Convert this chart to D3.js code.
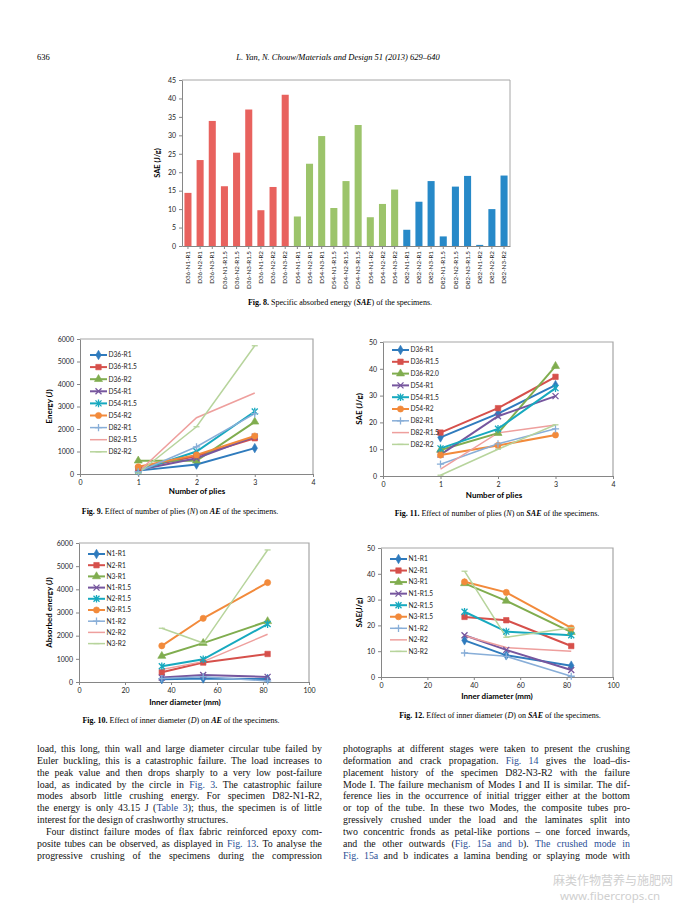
<!DOCTYPE html>
<html>
<head>
<meta charset="utf-8">
<script src="https://cdn.jsdelivr.net/npm/d3@7"></script>
<style>
  body { margin: 0; background: #fff; }
  svg { display: block; }
  .tick line { stroke: #868686; }
  .domain { stroke: #868686; }
</style>
</head>
<body>
<div id="page"></div>
<script>
// ---- data ----
const barCategories = [
  "D36-N1-R1", "D36-N2-R1", "D36-N3-R1", "D36-N1-R1.5", "D36-N2-R1.5", "D36-N3-R1.5",
  "D36-N1-R2", "D36-N2-R2", "D36-N3-R2",
  "D54-N1-R1", "D54-N2-R1", "D54-N3-R1", "D54-N1-R1.5", "D54-N2-R1.5", "D54-N3-R1.5",
  "D54-N1-R2", "D54-N2-R2", "D54-N3-R2",
  "D82-N1-R1", "D82-N2-R1", "D82-N3-R1", "D82-N1-R1.5", "D82-N2-R1.5", "D82-N3-R1.5",
  "D82-N1-R2", "D82-N2-R2", "D82-N3-R2"
];
const barValues = [
  14.4, 23.3, 33.9, 16.2, 25.3, 37.0, 9.7, 16.0, 41.0,
  8.0, 22.3, 29.8, 10.3, 17.6, 32.8, 7.8, 11.4, 15.3,
  4.4, 12.0, 17.6, 2.6, 16.1, 19.0, 0.3, 10.0, 19.1
];
const barTicks = [0, 5, 10, 15, 20, 25, 30, 35, 40, 45];

const plies = [1, 2, 3];
const diameters = [36, 54, 82];

const pliesSeriesAE = ["D36-R1", "D36-R1.5", "D36-R2", "D54-R1", "D54-R1.5", "D54-R2", "D82-R1", "D82-R1.5", "D82-R2"];
const energyByPlies = [
  [150, 420, 1150],
  [250, 800, 1590],
  [590, 590, 2320],
  [180, 700, 1660],
  [150, 1000, 2780],
  [320, 850, 1690],
  [100, 1210, 2680],
  [90, 2500, 3600],
  [43, 2100, 5700]
];

const pliesSeriesSAE = ["D36-R1", "D36-R1.5", "D36-R2.0", "D54-R1", "D54-R1.5", "D54-R2", "D82-R1", "D82-R1.5", "D82-R2"];
const saeByPlies = [
  [14.4, 23.3, 33.9],
  [16.2, 25.3, 37.0],
  [9.7, 16.0, 41.0],
  [8.0, 22.3, 29.8],
  [10.3, 17.6, 32.8],
  [7.8, 11.4, 15.3],
  [4.4, 12.0, 17.6],
  [2.6, 16.1, 19.0],
  [0.3, 10.0, 19.1]
];

const diamSeries = ["N1-R1", "N2-R1", "N3-R1", "N1-R1.5", "N2-R1.5", "N3-R1.5", "N1-R2", "N2-R2", "N3-R2"];
const energyByDiameter = [
  [120, 150, 130],
  [420, 840, 1210],
  [1120, 1680, 2620],
  [190, 300, 220],
  [680, 980, 2500],
  [1560, 2750, 4290],
  [150, 230, 43],
  [540, 880, 2060],
  [2320, 1680, 5700]
];
const saeByDiameter = [
  [14.2, 8.4, 4.4],
  [23.3, 22.0, 12.0],
  [36.3, 29.5, 17.4],
  [16.2, 10.5, 2.7],
  [25.3, 17.6, 16.2],
  [36.9, 32.8, 19.0],
  [9.3, 8.0, 0.3],
  [16.0, 11.4, 10.0],
  [41.0, 15.4, 19.1]
];

const energyTicks = [0, 1000, 2000, 3000, 4000, 5000, 6000];
const saeTicks = [0, 10, 20, 30, 40, 50];
const pliesTicks = [0, 1, 2, 3, 4];
const diamTicks = [0, 20, 40, 60, 80, 100];

const seriesColors = ["#2f7bbd", "#d6504b", "#80ad4f", "#76569e", "#17a9bf", "#f28a3b", "#88aed8", "#ee9f9d", "#b7d49c"];
const markerKinds = ["diamond", "square", "triangle", "x", "star", "circle", "plus", "none", "dash"];
const groupColors = ["#e8625e", "#9cc46b", "#2789c8"];

const leftLines = [
  "load, this long, thin wall and large diameter circular tube failed by",
  "Euler buckling, this is a catastrophic failure. The load increases to",
  "the peak value and then drops sharply to a very low post-failure",
  "load, as indicated by the circle in {Fig. 3}. The catastrophic failure",
  "modes absorb little crushing energy. For specimen D82-N1-R2,",
  "the energy is only 43.15 J ({Table 3}); thus, the specimen is of little",
  "interest for the design of crashworthy structures.",
  "Four distinct failure modes of flax fabric reinforced epoxy com-",
  "posite tubes can be observed, as displayed in {Fig. 13}. To analyse the",
  "progressive crushing of the specimens during the compression"
];
const rightLines = [
  "photographs at different stages were taken to present the crushing",
  "deformation and crack propagation. {Fig. 14} gives the load–dis-",
  "placement history of the specimen D82-N3-R2 with the failure",
  "Mode I. The failure mechanism of Modes I and II is similar. The dif-",
  "ference lies in the occurrence of initial trigger either at the bottom",
  "or top of the tube. In these two Modes, the composite tubes pro-",
  "gressively crushed under the load and the laminates split into",
  "two concentric fronds as petal-like portions – one forced inwards,",
  "and the other outwards ({Fig. 15a and b}). {The crushed mode in}",
  "{Fig. 15a} and b indicates a lamina bending or splaying mode with"
];

const W = 678, H = 905;
const chartFont = "Lato, 'Open Sans', sans-serif";
const serif = "'Liberation Serif', 'DejaVu Serif', serif";
const linkColor = "#2b4f96";

const svg = d3.select("#page").append("svg")
  .attr("width", W).attr("height", H)
  .style("background", "#fff");

// header
svg.append("text").attr("x", 37).attr("y", 60)
  .attr("font-family", serif).attr("font-size", 8.5).text("636");
svg.append("text").attr("x", 338).attr("y", 60).attr("text-anchor", "middle")
  .attr("font-family", serif).attr("font-size", 8.5).attr("font-style", "italic")
  .text("L. Yan, N. Chouw/Materials and Design 51 (2013) 629–640");

// caption helper: parts = [text, style]
function caption(cx, cy, parts) {
  const t = svg.append("text").attr("x", cx).attr("y", cy).attr("text-anchor", "middle")
    .attr("font-family", serif).attr("font-size", 8);
  parts.forEach(function (p) {
    const s = t.append("tspan").text(p[0]);
    if (p[1] && p[1].indexOf("b") >= 0) s.attr("font-weight", "bold");
    if (p[1] && p[1].indexOf("i") >= 0) s.attr("font-style", "italic");
  });
}

function styleAxis(g) {
  g.selectAll("text").attr("font-family", chartFont).attr("font-size", 7).attr("fill", "#222");
}

// ---- Fig. 8 bar chart ----
function drawBars() {
  const left = 182, right = 510, top = 80, bottom = 246;
  const x = d3.scaleBand().domain(barCategories).range([left, right]).paddingInner(0.42).paddingOuter(0.2);
  const y = d3.scaleLinear().domain([0, 45]).range([bottom, top]);

  svg.append("path")
    .attr("d", "M" + left + "," + top + "H" + right + "V" + bottom)
    .attr("fill", "none").attr("stroke", "#a6a6a6").attr("stroke-width", 1);

  svg.selectAll("rect.bar")
    .data(barValues)
    .enter()
    .append("rect")
    .attr("class", "bar")
    .attr("x", function (d, i) { return x(barCategories[i]); })
    .attr("width", x.bandwidth())
    .attr("y", function (d) { return y(d); })
    .attr("height", function (d) { return y(0) - y(d); })
    .attr("fill", function (d, i) { return groupColors[Math.floor(i / 9)]; });

  const ya = svg.append("g").attr("transform", "translate(" + left + ",0)")
    .call(d3.axisLeft(y).tickValues(barTicks).tickSize(3).tickSizeOuter(0));
  styleAxis(ya);

  const xa = svg.append("g").attr("transform", "translate(0," + bottom + ")")
    .call(d3.axisBottom(x).tickSize(3).tickSizeOuter(0));
  xa.selectAll("text")
    .attr("font-family", chartFont).attr("font-size", 6.3).attr("fill", "#222")
    .attr("transform", "rotate(-90)")
    .attr("text-anchor", "end")
    .attr("x", -5).attr("y", 0).attr("dy", "0.35em");

  svg.append("text")
    .attr("transform", "translate(160," + (top + bottom) / 2 + ")rotate(-90)")
    .attr("text-anchor", "middle").attr("font-family", chartFont)
    .attr("font-size", 7.5).attr("font-weight", "bold").text("SAE (J/g)");
}

function markerPath(kind) {
  if (kind === "diamond") return d3.symbol(d3.symbolDiamond, 26)();
  if (kind === "square") return d3.symbol(d3.symbolSquare, 30)();
  if (kind === "triangle") return d3.symbol(d3.symbolTriangle, 28)();
  if (kind === "circle") return d3.symbol(d3.symbolCircle, 30)();
  if (kind === "x") return "M-3,-3L3,3M-3,3L3,-3";
  if (kind === "star") return "M-3,-3L3,3M-3,3L3,-3M0,-3.8L0,3.8";
  if (kind === "plus") return "M-3.6,0L3.6,0M0,-3.6L0,3.6";
  if (kind === "dash") return "M-3,0L3,0";
  return null;
}

function drawMarker(g, kind, color, cx, cy) {
  const p = markerPath(kind);
  if (!p) return;
  const filled = ["diamond", "square", "triangle", "circle"].indexOf(kind) >= 0;
  g.append("path").attr("d", p)
    .attr("transform", "translate(" + cx + "," + cy + ")")
    .attr("fill", filled ? color : "none")
    .attr("stroke", color).attr("stroke-width", filled ? 0.6 : 1.3);
}

// ---- generic line chart ----
function drawLineChart(cfg) {
  const x = d3.scaleLinear().domain(cfg.xDomain).range([cfg.left, cfg.right]);
  const y = d3.scaleLinear().domain(cfg.yDomain).range([cfg.bottom, cfg.top]);

  svg.append("path")
    .attr("d", "M" + cfg.left + "," + cfg.top + "H" + cfg.right + "V" + cfg.bottom)
    .attr("fill", "none").attr("stroke", "#a6a6a6").attr("stroke-width", 1.2);

  const ya = svg.append("g").attr("transform", "translate(" + cfg.left + ",0)")
    .call(d3.axisLeft(y).tickValues(cfg.yTicks).tickSize(3).tickSizeOuter(0).tickFormat(d3.format("d")));
  styleAxis(ya);
  const xa = svg.append("g").attr("transform", "translate(0," + cfg.bottom + ")")
    .call(d3.axisBottom(x).tickValues(cfg.xTicks).tickSize(3).tickSizeOuter(0).tickFormat(d3.format("d")));
  styleAxis(xa);

  const line = d3.line()
    .x(function (d, i) { return x(cfg.xs[i]); })
    .y(function (d) { return y(d); });

  const g = svg.append("g");
  cfg.values.forEach(function (vals, s) {
    g.append("path").datum(vals)
      .attr("d", line)
      .attr("fill", "none")
      .attr("stroke", seriesColors[s])
      .attr("stroke-width", s < 6 ? 2 : 1.5);
  });
  cfg.values.forEach(function (vals, s) {
    vals.forEach(function (v, i) {
      drawMarker(g, markerKinds[s], seriesColors[s], x(cfg.xs[i]), y(v));
    });
  });

  // legend
  const lg = svg.append("g");
  cfg.names.forEach(function (name, s) {
    const ly = cfg.legY + s * cfg.legStep;
    lg.append("line")
      .attr("x1", cfg.legX).attr("x2", cfg.legX + 17)
      .attr("y1", ly).attr("y2", ly)
      .attr("stroke", seriesColors[s]).attr("stroke-width", s < 6 ? 2 : 1.5);
    drawMarker(lg, markerKinds[s], seriesColors[s], cfg.legX + 8.5, ly);
    lg.append("text")
      .attr("x", cfg.legX + 18.5).attr("y", ly).attr("dy", "0.35em")
      .attr("font-family", chartFont).attr("font-size", 6.6).attr("fill", "#222")
      .text(name);
  });

  svg.append("text")
    .attr("x", cfg.xLabelX).attr("y", cfg.xLabelY)
    .attr("text-anchor", "middle").attr("font-family", chartFont)
    .attr("font-size", 8).attr("font-weight", "bold").text(cfg.xLabel);
  svg.append("text")
    .attr("transform", "translate(" + cfg.yLabelX + "," + (cfg.top + cfg.bottom) / 2 + ")rotate(-90)")
    .attr("text-anchor", "middle").attr("font-family", chartFont)
    .attr("font-size", 8).attr("font-weight", "bold").text(cfg.yLabel);
}

drawBars();
caption(340, 305, [["Fig. 8.", "b"], ["  Specific absorbed energy ("], ["SAE", "bi"], [") of the specimens."]]);

drawLineChart({
  left: 80, right: 313, top: 339, bottom: 474,
  xDomain: [0, 4], yDomain: [0, 6000], xTicks: pliesTicks, yTicks: energyTicks,
  xs: plies, values: energyByPlies, names: pliesSeriesAE,
  legX: 90, legY: 355, legStep: 12.1,
  xLabel: "Number of plies", xLabelX: 197, xLabelY: 494,
  yLabel: "Energy (J)", yLabelX: 52
});
caption(180, 514, [["Fig. 9.", "b"], ["  Effect of number of plies ("], ["N", "i"], [") on "], ["AE", "bi"], [" of the specimens."]]);

drawLineChart({
  left: 79, right: 309, top: 543, bottom: 682,
  xDomain: [0, 100], yDomain: [0, 6000], xTicks: diamTicks, yTicks: energyTicks,
  xs: diameters, values: energyByDiameter, names: diamSeries,
  legX: 88, legY: 554, legStep: 11.2,
  xLabel: "Inner diameter (mm)", xLabelX: 185, xLabelY: 705,
  yLabel: "Absorbed energy (J)", yLabelX: 52
});
caption(181, 723, [["Fig. 10.", "b"], ["  Effect of inner diameter ("], ["D", "i"], [") on "], ["AE", "bi"], [" of the specimens."]]);

drawLineChart({
  left: 383, right: 613, top: 342, bottom: 476,
  xDomain: [0, 4], yDomain: [0, 50], xTicks: pliesTicks, yTicks: saeTicks,
  xs: plies, values: saeByPlies, names: pliesSeriesSAE,
  legX: 392, legY: 350, legStep: 11.8,
  xLabel: "Number of plies", xLabelX: 494, xLabelY: 498,
  yLabel: "SAE (J/g)", yLabelX: 362
});
caption(497, 516, [["Fig. 11.", "b"], ["  Effect of number of plies ("], ["N", "i"], [") on "], ["SAE", "bi"], [" of the specimens."]]);

drawLineChart({
  left: 381, right: 613, top: 548, bottom: 677,
  xDomain: [0, 100], yDomain: [0, 50], xTicks: diamTicks, yTicks: saeTicks,
  xs: diameters, values: saeByDiameter, names: diamSeries,
  legX: 390, legY: 559, legStep: 11.55,
  xLabel: "Inner diameter (mm)", xLabelX: 497, xLabelY: 699,
  yLabel: "SAE(J/g)", yLabelX: 362
});
caption(500, 718, [["Fig. 12.", "b"], ["  Effect of inner diameter ("], ["D", "i"], [") on "], ["SAE", "bi"], [" of the specimens."]]);

// ---- body text, justified by word spacing ----
function drawColumn(lines, x0, width, ragged, indented) {
  lines.forEach(function (line, i) {
    const indent = indented.indexOf(i) >= 0 ? 9 : 0;
    const t = svg.append("text")
      .attr("x", x0 + indent).attr("y", 752 + i * 11.85)
      .attr("font-family", serif).attr("font-size", 9.9).attr("fill", "#111");
    line.split(/(\{[^}]*\})/).forEach(function (seg) {
      if (!seg) return;
      if (seg[0] === "{") t.append("tspan").attr("fill", linkColor).text(seg.slice(1, -1));
      else t.append("tspan").text(seg);
    });
    if (ragged.indexOf(i) < 0) {
      const natural = t.node().getComputedTextLength();
      const spaces = (line.match(/ /g) || []).length;
      const extra = (width - indent - natural) / spaces;
      t.attr("word-spacing", extra);
    }
  });
}
drawColumn(leftLines, 37, 285, [6], [7]);
drawColumn(rightLines, 343, 287, [], []);

// watermark
svg.append("text").attr("x", 553).attr("y", 885)
  .attr("font-family", "'Noto Sans CJK SC', sans-serif").attr("font-size", 12)
  .attr("fill", "#cfcfcf").text("麻类作物营养与施肥网");
svg.append("text").attr("x", 560).attr("y", 900)
  .attr("font-family", "'Noto Sans', sans-serif").attr("font-size", 11.5)
  .attr("fill", "#cfcfcf").text("www.fibercrops.cn");
</script>
</body>
</html>
